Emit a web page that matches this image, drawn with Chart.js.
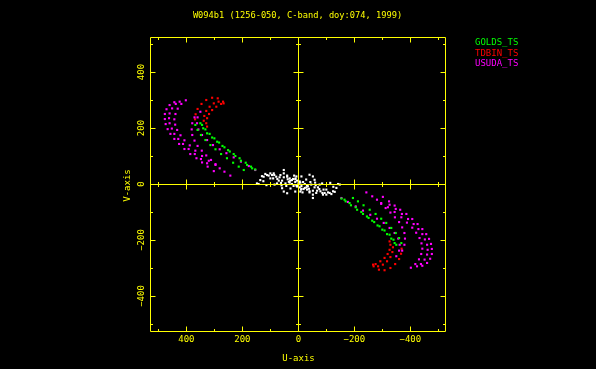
<!DOCTYPE html>
<html>
<head>
<meta charset="utf-8">
<script src="https://cdn.jsdelivr.net/npm/chart.js@4"></script>
<style>
  body { margin: 0; background: #000; }
  canvas { display: block; }
</style>
</head>
<body>
<canvas id="uvChart" width="596" height="369"></canvas>
<script>
// every baseline also gives the conjugate point (-u,-v)
const stations = ['GOLDS_TS', 'TDBIN_TS', 'USUDA_TS'];

const goldsArcs = [
    [[368,211],[360,193],[348,175],[332,157],[314,139],[296,124],[276,107],[255,92],[233,76],[213,62],[195,50]],
    [[344,211],[332,195],[317,179],[300,163],[283,148],[264,131],[245,116],[225,100],[205,83],[183,68],[165,56]],
    [[350,217],[340,199],[326,181],[308,166],[290,151],[271,136],[251,121],[231,107],[210,92],[188,76],[169,62],[154,52]]
];

const tdbinArcs = [
    [[269,294],[288,306],[308,308],[329,300],[346,286],[360,268],[367,249],[369,231]],
    [[267,288],[285,294],[302,288],[317,276],[329,261],[336,243],[338,226]],
    [[276,286],[293,276],[308,264],[319,250],[326,235],[329,217],[326,205]]
];

const usudaArcs = [
    [[443,292],[460,282],[471,267],[477,250],[477,232],[474,214],[467,196],[457,179],[443,161],[426,143],[407,125],[386,107],[364,92],[344,77],[324,62],[302,46]],
    [[424,294],[438,286],[451,270],[460,252],[462,235],[460,217],[452,198],[443,179],[429,161],[412,143],[392,125],[370,107],[348,89],[326,74]],
    [[402,299],[418,286],[431,269],[439,250],[443,231],[440,212],[433,193],[421,174],[407,156],[388,138],[368,119],[344,100],[320,83],[296,68]],
    [[371,238],[379,217],[381,195],[379,175],[371,155],[360,136],[345,119],[329,102],[312,86],[296,71],[281,56],[264,44],[243,30]],
    [[350,258],[360,238],[362,217],[357,195],[344,175],[326,157],[305,139],[281,124],[257,110],[231,95],[205,80],[177,64],[154,50]]
];

// ground-ground baselines (white)
const groundPoints = [
    [118,36],[106,30],[94,32],[79,26],[64,32],[52,38],[52,24],[38,17],[29,12],[19,18],
    [11,7],[23,0],[43,-7],[58,-15],[114,-4],[142,0],[5,-9],[31,5],[70,12],[88,38],
    [52,50],[100,20],[75,18],[130,28],[40,30],[10,20],[-7,-27],[62,4],[85,-2],[125,10],
    [40,26],[31,20],[23,14],[11,17],[5,12],[7,-5],[34,8],[17,-7],[1,-3],[46,2],
    [58,12],[67,24],[86,32],[100,38],[112,32],[124,26],[136,14],[148,2],[52,-27],[40,-33],
    [11,-27],[90,20],[76,2],[28,-16],[15,30],[60,-5]
];

const tickValues = [-500, -400, -300, -200, -100, 0, 100, 200, 300, 400, 500];
const tickLabels = [-400, -200, 0, 200, 400];

const withConjugates = (pts) => pts.flatMap(([u, v]) => [{x: u, y: v}, {x: -u, y: -v}]);

const pointSet = (label, color, pts) => ({
    label: label,
    data: withConjugates(pts),
    backgroundColor: color,
    borderWidth: 0,
    pointStyle: 'rect',
    pointRadius: 1.5,
    pointHoverRadius: 1.5
});

const colors = ['#00ff00', '#ff0000', '#ff00ff'];

const fmt = (v) => v < 0 ? '\u2212' + Math.abs(v) : String(v);

const framePlugin = {
    id: 'frame',
    afterDraw(chart) {
        const {ctx, chartArea: a, scales: {x, y}} = chart;
        const yellow = '#ffff00';
        const font = '9px "DejaVu Sans Mono"';
        ctx.save();
        ctx.strokeStyle = yellow;
        ctx.lineWidth = 1;

        const L = a.left + 0.5, R = a.right + 0.5, T = a.top + 0.5, B = a.bottom + 0.5;
        const x0 = Math.round(x.getPixelForValue(0)) + 0.5;
        const y0 = Math.round(y.getPixelForValue(0)) + 0.5;

        ctx.beginPath();
        ctx.rect(L, T, R - L, B - T);
        ctx.moveTo(x0, T); ctx.lineTo(x0, B);
        ctx.moveTo(L, y0); ctx.lineTo(R, y0);

        tickValues.forEach(v => {
            const len = v % 200 === 0 ? 5 : 2.5;
            const px = Math.round(x.getPixelForValue(v)) + 0.5;
            const py = Math.round(y.getPixelForValue(v)) + 0.5;
            ctx.moveTo(px, B); ctx.lineTo(px, B - len);
            ctx.moveTo(px, T); ctx.lineTo(px, T + len);
            ctx.moveTo(L, py); ctx.lineTo(L + len, py);
            ctx.moveTo(R, py); ctx.lineTo(R - len, py);
            if (v !== 0) {
                ctx.moveTo(px, y0 - len); ctx.lineTo(px, y0 + len);
                ctx.moveTo(x0 - len, py); ctx.lineTo(x0 + len, py);
            }
        });
        ctx.stroke();

        ctx.fillStyle = yellow;
        ctx.font = font;
        ctx.textAlign = 'center';
        ctx.textBaseline = 'middle';

        tickLabels.forEach(v => {
            ctx.fillText(fmt(v), x.getPixelForValue(v), a.bottom + 9);
            ctx.save();
            ctx.translate(a.left - 8, y.getPixelForValue(v));
            ctx.rotate(-Math.PI / 2);
            ctx.fillText(fmt(v), 0, 0);
            ctx.restore();
        });

        ctx.fillText('U-axis', x0, a.bottom + 28);
        ctx.save();
        ctx.translate(a.left - 22, y0 + 1);
        ctx.rotate(-Math.PI / 2);
        ctx.fillText('V-axis', 0, 0);
        ctx.restore();

        ctx.font = '8.7px "DejaVu Sans Mono"';
        ctx.fillText('W094b1 (1256-050, C-band, doy:074, 1999)', 297.5, 16);

        ctx.font = font;
        ctx.textAlign = 'left';
        stations.forEach((s, i) => {
            ctx.fillStyle = colors[i];
            ctx.fillText(s, 475, 43 + i * 10.3);
        });
        ctx.restore();
    }
};

const config = {
    type: 'scatter',
    data: {
        datasets: [
            pointSet('ground', '#ffffff', groundPoints),
            pointSet(stations[0], colors[0], goldsArcs.flat()),
            pointSet(stations[2], colors[2], usudaArcs.flat()),
            pointSet(stations[1], colors[1], tdbinArcs.flat())
        ]
    },
    options: {
        responsive: false,
        animation: false,
        layout: {
            padding: {left: 150, right: 151, top: 37, bottom: 38}
        },
        plugins: {
            legend: {display: false},
            tooltip: {enabled: false}
        },
        scales: {
            x: {display: false, min: -524, max: 530, reverse: true},
            y: {display: false, min: -525, max: 525}
        }
    },
    plugins: [framePlugin]
};

const uvChart = new Chart(document.getElementById('uvChart'), config);
</script>
</body>
</html>
